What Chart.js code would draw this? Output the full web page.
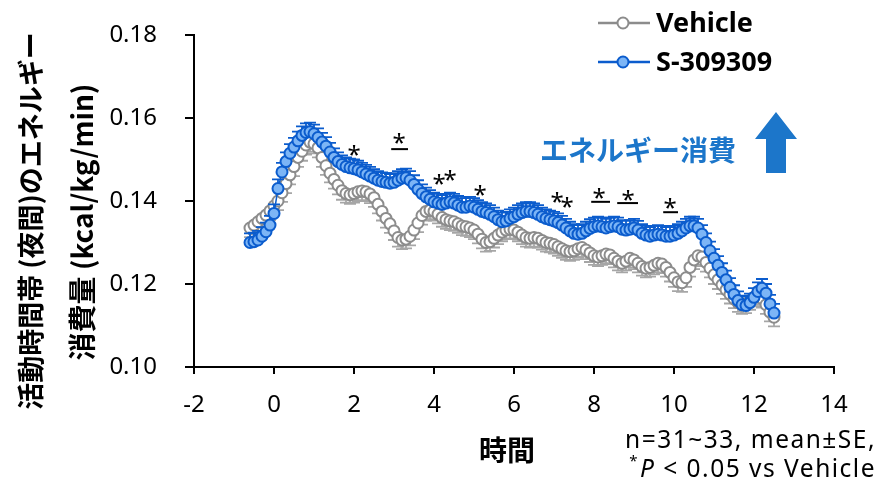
<!DOCTYPE html>
<html>
<head>
<meta charset="utf-8">
<script src="https://cdn.jsdelivr.net/npm/chart.js@4.4.1/dist/chart.umd.min.js"></script>
<style>
html,body{margin:0;padding:0;background:#fff;}
#wrap{width:879px;height:485px;position:relative;}
</style>
</head>
<body>
<div id="wrap"><canvas id="c" width="879" height="485"></canvas></div>
<script>
// time (hours)
const hours = [
 -0.6,-0.5,-0.4,-0.3,-0.2,-0.1,
 0.0,0.1,0.2,0.3,0.4,0.5,0.6,0.7,0.8,0.9,
 1.0,1.1,1.2,1.3,1.4,1.5,1.6,1.7,1.8,1.9,
 2.0,2.1,2.2,2.3,2.4,2.5,2.6,2.7,2.8,2.9,
 3.0,3.1,3.2,3.3,3.4,3.5,3.6,3.7,3.8,3.9,
 4.0,4.1,4.2,4.3,4.4,4.5,4.6,4.7,4.8,4.9,
 5.0,5.1,5.2,5.3,5.4,5.5,5.6,5.7,5.8,5.9,
 6.0,6.1,6.2,6.3,6.4,6.5,6.6,6.7,6.8,6.9,
 7.0,7.1,7.2,7.3,7.4,7.5,7.6,7.7,7.8,7.9,
 8.0,8.1,8.2,8.3,8.4,8.5,8.6,8.7,8.8,8.9,
 9.0,9.1,9.2,9.3,9.4,9.5,9.6,9.7,9.8,9.9,
 10.0,10.1,10.2,10.3,10.4,10.5,10.6,10.7,10.8,10.9,
 11.0,11.1,11.2,11.3,11.4,11.5,11.6,11.7,11.8,11.9,
 12.0,12.1,12.2,12.3,12.4,12.5
];
const vehicle = [
 0.1335,0.1342,0.1350,0.1358,0.1366,0.1376,
 0.1388,0.1400,0.1420,0.1442,0.1463,0.1483,0.1505,0.1520,0.1535,0.1542,
 0.1538,0.1528,0.1505,0.1485,0.1467,0.1452,0.1438,0.1425,0.1418,0.1415,
 0.1418,0.1422,0.1424,0.1422,0.1417,0.1408,0.1392,0.1375,0.1358,0.1345,
 0.1328,0.1312,0.1306,0.1308,0.1315,0.1330,0.1347,0.1365,0.1375,0.1378,
 0.1375,0.1368,0.1360,0.1355,0.1352,0.1350,0.1345,0.1340,0.1338,0.1335,
 0.1330,0.1320,0.1308,0.1300,0.1302,0.1310,0.1318,0.1325,0.1330,0.1332,
 0.1330,0.1325,0.1318,0.1312,0.1310,0.1312,0.1310,0.1305,0.1300,0.1298,
 0.1295,0.1290,0.1285,0.1280,0.1278,0.1280,0.1285,0.1288,0.1282,0.1275,
 0.1268,0.1265,0.1268,0.1272,0.1270,0.1262,0.1255,0.1250,0.1255,0.1262,
 0.1258,0.1250,0.1242,0.1238,0.1240,0.1245,0.1250,0.1248,0.1240,0.1228,
 0.1215,0.1205,0.1203,0.1215,0.1240,0.1258,0.1268,0.1265,0.1252,0.1238,
 0.1222,0.1210,0.1198,0.1186,0.1175,0.1164,0.1155,0.1150,0.1152,0.1160,
 0.1168,0.1172,0.1165,0.1150,0.1132,0.1120
];
const vehicleSE = [
 0.0022,0.0022,0.0022,0.0022,0.0022,0.0022,
 0.0022,0.0022,0.0022,0.0023,0.0023,0.0023,0.0023,0.0023,0.0023,0.0023,
 0.0023,0.0023,0.0023,0.0022,0.0022,0.0022,0.0022,0.0022,0.0022,0.0022,
 0.0022,0.0022,0.0022,0.0022,0.0022,0.0022,0.0022,0.0022,0.0022,0.0022,
 0.0022,0.0022,0.0022,0.0022,0.0022,0.0022,0.0022,0.0022,0.0022,0.0022,
 0.0022,0.0022,0.0022,0.0022,0.0022,0.0022,0.0022,0.0022,0.0022,0.0022,
 0.0022,0.0022,0.0022,0.0022,0.0022,0.0022,0.0022,0.0022,0.0022,0.0022,
 0.0022,0.0022,0.0022,0.0022,0.0022,0.0022,0.0022,0.0022,0.0022,0.0022,
 0.0022,0.0022,0.0022,0.0022,0.0022,0.0022,0.0022,0.0022,0.0022,0.0022,
 0.0022,0.0022,0.0022,0.0022,0.0022,0.0022,0.0022,0.0022,0.0022,0.0022,
 0.0022,0.0022,0.0022,0.0022,0.0022,0.0022,0.0022,0.0022,0.0022,0.0022,
 0.0022,0.0022,0.0022,0.0022,0.0022,0.0022,0.0022,0.0022,0.0022,0.0022,
 0.0022,0.0022,0.0022,0.0022,0.0022,0.0022,0.0022,0.0022,0.0022,0.0022,
 0.0022,0.0022,0.0022,0.0022,0.0022,0.0022
];
const s309309 = [
 0.1300,0.1302,0.1306,0.1315,0.1326,0.1342,
 0.1370,0.1430,0.1470,0.1495,0.1515,0.1530,0.1545,0.1558,0.1565,0.1567,
 0.1562,0.1553,0.1542,0.1532,0.1518,0.1505,0.1495,0.1488,0.1483,0.1480,
 0.1478,0.1475,0.1470,0.1465,0.1460,0.1455,0.1450,0.1447,0.1445,0.1443,
 0.1445,0.1450,0.1455,0.1456,0.1450,0.1440,0.1428,0.1418,0.1410,0.1404,
 0.1398,0.1395,0.1392,0.1395,0.1398,0.1395,0.1390,0.1385,0.1385,0.1388,
 0.1385,0.1380,0.1375,0.1372,0.1368,0.1362,0.1355,0.1350,0.1352,0.1358,
 0.1362,0.1368,0.1372,0.1375,0.1375,0.1372,0.1368,0.1362,0.1358,0.1355,
 0.1352,0.1348,0.1342,0.1335,0.1328,0.1322,0.1320,0.1322,0.1328,0.1334,
 0.1338,0.1340,0.1338,0.1335,0.1338,0.1340,0.1338,0.1332,0.1330,0.1332,
 0.1335,0.1330,0.1322,0.1318,0.1315,0.1318,0.1320,0.1318,0.1315,0.1315,
 0.1318,0.1322,0.1328,0.1335,0.1340,0.1340,0.1335,0.1320,0.1300,0.1280,
 0.1262,0.1245,0.1228,0.1210,0.1192,0.1175,0.1160,0.1150,0.1148,0.1155,
 0.1168,0.1182,0.1190,0.1178,0.1152,0.1130
];
const s309309SE = [
 0.0022,0.0022,0.0022,0.0022,0.0022,0.0022,
 0.0022,0.0022,0.0022,0.0022,0.0022,0.0022,0.0022,0.0022,0.0022,0.0022,
 0.0022,0.0022,0.0022,0.0022,0.0022,0.0022,0.0022,0.0022,0.0022,0.0022,
 0.0022,0.0022,0.0022,0.0022,0.0022,0.0022,0.0022,0.0022,0.0022,0.0022,
 0.0022,0.0022,0.0022,0.0022,0.0022,0.0022,0.0022,0.0022,0.0022,0.0022,
 0.0022,0.0022,0.0022,0.0022,0.0022,0.0022,0.0022,0.0022,0.0022,0.0022,
 0.0022,0.0022,0.0022,0.0022,0.0022,0.0022,0.0022,0.0022,0.0022,0.0022,
 0.0022,0.0022,0.0022,0.0022,0.0022,0.0022,0.0022,0.0022,0.0022,0.0022,
 0.0022,0.0022,0.0022,0.0022,0.0022,0.0022,0.0022,0.0022,0.0022,0.0022,
 0.0022,0.0022,0.0022,0.0022,0.0022,0.0022,0.0022,0.0022,0.0022,0.0022,
 0.0022,0.0022,0.0022,0.0022,0.0022,0.0022,0.0022,0.0022,0.0022,0.0022,
 0.0022,0.0022,0.0022,0.0022,0.0022,0.0022,0.0022,0.0022,0.0022,0.0022,
 0.0022,0.0022,0.0022,0.0022,0.0022,0.0022,0.0022,0.0022,0.0022,0.0022,
 0.0022,0.0022,0.0022,0.0022,0.0022,0.0022
];
// significance marks
const starTimes  = [2.0, 3.125, 4.125, 4.4, 5.15, 7.075, 7.325, 8.125, 8.85, 9.9];
const starValues = [0.1523, 0.1552, 0.1453, 0.1463, 0.1427, 0.1410, 0.1398, 0.1419, 0.1414, 0.1395];
const underlines = [[2.93, 3.35, 0.1525], [7.93, 8.40, 0.1398], [8.58, 9.10, 0.1395], [9.73, 10.10, 0.1373]];
const xTicks = [-2, 0, 2, 4, 6, 8, 10, 12, 14];
const yTicks = [0.10, 0.12, 0.14, 0.16, 0.18];

const GRAY = '#8c8c8c', GRAY_ERR = '#a6a6a6';
const BLUE = '#0b5ccd', BLUE_FILL = '#7cb5f6';
const TXT = '"Noto Sans", "DejaVu Sans", sans-serif';
const JP = '"Noto Sans CJK JP", "Noto Sans", sans-serif';

const extras = {
  id: 'extras',
  beforeDatasetDraw(chart, args) {
    const ctx = chart.ctx, meta = args.meta, ys = chart.scales.y;
    const isVeh = args.index === 1;
    const se = isVeh ? vehicleSE : s309309SE;
    const vals = isVeh ? vehicle : s309309;
    ctx.save();
    ctx.strokeStyle = isVeh ? GRAY_ERR : BLUE;
    ctx.lineWidth = 1.8;
    meta.data.forEach((pt, i) => {
      const y2 = ys.getPixelForValue(vals[i] + (isVeh ? -se[i] : se[i]));
      ctx.beginPath();
      ctx.moveTo(pt.x, pt.y); ctx.lineTo(pt.x, y2);
      ctx.moveTo(pt.x - 6, y2); ctx.lineTo(pt.x + 6, y2);
      ctx.stroke();
    });
    ctx.restore();
  },
  afterDraw(chart) {
    const ctx = chart.ctx, xs = chart.scales.x, ys = chart.scales.y;
    ctx.save();
    // stars
    ctx.fillStyle = '#000';
    ctx.font = '24px ' + TXT;
    ctx.textAlign = 'center';
    ctx.textBaseline = 'alphabetic';
    starTimes.forEach((t, i) => {
      ctx.fillText('*', xs.getPixelForValue(t), ys.getPixelForValue(starValues[i]) + 13);
    });
    ctx.strokeStyle = '#000'; ctx.lineWidth = 2;
    underlines.forEach(u => {
      const y = ys.getPixelForValue(u[2]);
      ctx.beginPath();
      ctx.moveTo(xs.getPixelForValue(u[0]), y);
      ctx.lineTo(xs.getPixelForValue(u[1]), y);
      ctx.stroke();
    });
    // legend
    const leg = [[23, 'Vehicle', GRAY, '#fff'], [62, 'S-309309', BLUE, BLUE_FILL]];
    leg.forEach(l => {
      ctx.strokeStyle = l[2]; ctx.lineWidth = 2.5;
      ctx.beginPath(); ctx.moveTo(598, l[0]); ctx.lineTo(650, l[0]); ctx.stroke();
      ctx.beginPath(); ctx.arc(623, l[0], 5.5, 0, Math.PI * 2);
      ctx.fillStyle = l[3]; ctx.fill(); ctx.lineWidth = 2; ctx.stroke();
      ctx.fillStyle = '#000';
      ctx.font = 'bold 27px ' + TXT;
      ctx.textAlign = 'left'; ctx.textBaseline = 'middle';
      ctx.fillText(l[1], 656, l[0] + 1);
    });
    // energy expenditure label + arrow
    ctx.fillStyle = '#1c76ca';
    ctx.font = 'bold 28px ' + JP;
    ctx.textAlign = 'right'; ctx.textBaseline = 'middle';
    ctx.fillText('エネルギー消費', 736, 150);
    ctx.beginPath();
    ctx.moveTo(776, 112); ctx.lineTo(797, 139); ctx.lineTo(786, 139); ctx.lineTo(786, 173);
    ctx.lineTo(766, 173); ctx.lineTo(766, 139); ctx.lineTo(755, 139); ctx.closePath();
    ctx.fill();
    // y title
    ctx.fillStyle = '#000';
    ctx.font = 'bold 27px ' + JP;
    ctx.textAlign = 'center'; ctx.textBaseline = 'middle';
    ctx.save(); ctx.translate(31, 221); ctx.rotate(-Math.PI / 2);
    ctx.fillText('活動時間帯 (夜間)のエネルギー', 0, 0); ctx.restore();
    ctx.font = 'bold 28px ' + JP;
    ctx.save(); ctx.translate(82, 222); ctx.rotate(-Math.PI / 2);
    ctx.fillText('消費量 (kcal/kg/min)', 0, 0); ctx.restore();
    // x title
    ctx.font = 'bold 28px ' + JP;
    ctx.fillText('時間', 507, 450);
    // note
    ctx.font = '24.5px ' + TXT;
    ctx.letterSpacing = '1.5px';
    ctx.textAlign = 'right';
    ctx.fillText('n=31~33, mean±SE,', 876, 441);
    const tail = ' < 0.05 vs Vehicle';
    const wTail = ctx.measureText(tail).width;
    ctx.fillText(tail, 876, 470);
    ctx.font = 'italic 24.5px ' + TXT;
    const wP = ctx.measureText('P').width;
    ctx.fillText('P', 876 - wTail, 470);
    ctx.font = '15px ' + TXT;
    ctx.fillText('*', 876 - wTail - wP - 1, 462);
    ctx.restore();
  }
};

new Chart(document.getElementById('c'), {
  type: 'line',
  data: {
    datasets: [
      {
        label: 'S-309309',
        data: hours.map((t, i) => ({x: t, y: s309309[i]})),
        borderColor: BLUE, borderWidth: 1.5,
        pointBackgroundColor: BLUE_FILL, pointBorderColor: BLUE,
        pointBorderWidth: 2, pointRadius: 5.5, tension: 0, order: 0
      },
      {
        label: 'Vehicle',
        data: hours.map((t, i) => ({x: t, y: vehicle[i]})),
        borderColor: GRAY, borderWidth: 1.5,
        pointBackgroundColor: '#fff', pointBorderColor: GRAY,
        pointBorderWidth: 2, pointRadius: 5.5, tension: 0, order: 1
      }
    ]
  },
  options: {
    responsive: false, animation: false,
    layout: {padding: {left: 0, top: 35, right: 45, bottom: 0}},
    plugins: {legend: {display: false}, tooltip: {enabled: false}},
    scales: {
      x: {
        type: 'linear', min: -2, max: 14,
        afterBuildTicks: s => { s.ticks = xTicks.map(v => ({value: v})); },
        afterFit: s => { s.height = 118; s.paddingLeft = 0; s.paddingRight = 0; },
        ticks: {color: '#000', font: {size: 24, family: TXT}, padding: 17,
                callback: v => String(v)},
        grid: {drawOnChartArea: false, drawTicks: true, tickLength: 7, color: '#000', lineWidth: 2},
        border: {color: '#000', width: 2}
      },
      y: {
        min: 0.10, max: 0.18,
        afterBuildTicks: s => { s.ticks = yTicks.map(v => ({value: v})); },
        afterFit: s => { s.width = 194; s.paddingTop = 0; s.paddingBottom = 0; },
        ticks: {color: '#000', font: {size: 24, family: TXT}, padding: 28,
                callback: v => v.toFixed(2)},
        grid: {drawOnChartArea: false, drawTicks: true, tickLength: 9, color: '#000', lineWidth: 2},
        border: {color: '#000', width: 2}
      }
    }
  },
  plugins: [extras]
});
</script>
</body>
</html>
